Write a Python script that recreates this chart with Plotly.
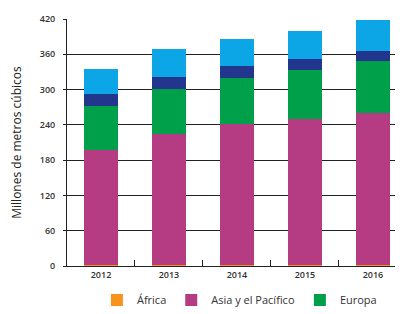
import plotly.graph_objects as go

years = ["2012", "2013", "2014", "2015", "2016"]
africa = [2, 2, 2, 2, 2]
asia_pacifico = [195, 222, 239, 248, 258]
europa = [75, 77, 79, 83, 89]
america_latina = [20, 20, 20, 19, 17]
america_norte = [43, 48, 46, 48, 52]
y_ticks = [0, 60, 120, 180, 240, 300, 360, 420]

series = [
    ("África", africa, "#f7941d", True),
    ("Asia y el Pacífico", asia_pacifico, "#b53c82", True),
    ("Europa", europa, "#00a04b", True),
    ("América Latina y el Caribe", america_latina, "#22368e", False),
    ("América del Norte", america_norte, "#0ca5e6", False),
]

fig = go.Figure()
for name, vals, color, show in series:
    fig.add_trace(go.Bar(
        x=years, y=vals, name=name, marker=dict(color=color, line=dict(width=0)),
        width=0.49, showlegend=show,
    ))

fig.update_layout(
    barmode="stack",
    width=403, height=306,
    margin=dict(l=59, r=0, t=11, b=48, autoexpand=False),
    paper_bgcolor="white", plot_bgcolor="white",
    font=dict(family="Open Sans, sans-serif", color="#333"),
    legend=dict(
        orientation="h", xref="paper", yref="paper",
        x=0.087, y=-0.138, xanchor="left", yanchor="middle",
        font=dict(size=11, color="#333"), traceorder="normal",
        itemwidth=30, tracegroupgap=0,
    ),
    bargap=0.5,
)
fig.update_yaxes(
    range=[0, 420], tickvals=y_ticks, ticktext=[str(v) for v in y_ticks],
    showgrid=True, gridcolor="#222", gridwidth=1,
    showline=True, linecolor="#222", linewidth=1,
    ticks="outside", ticklen=3, tickcolor="#222",
    ticklabelstandoff=6,
    tickfont=dict(size=9, color="#333", weight=600),
    title=dict(text="Millones de metros cúbicos", font=dict(size=12, color="#222", weight=500), standoff=24),
    zeroline=False, automargin=False,
)
fig.update_xaxes(
    type="category", range=[-0.5, 4.56],
    showline=True, linecolor="#222", linewidth=1,
    ticks="inside", ticklen=6, tickcolor="#222", tickson="boundaries",
    tickfont=dict(size=9, color="#333", weight=600),
    showgrid=False, automargin=False,
)

fig.write_html("out.html")
